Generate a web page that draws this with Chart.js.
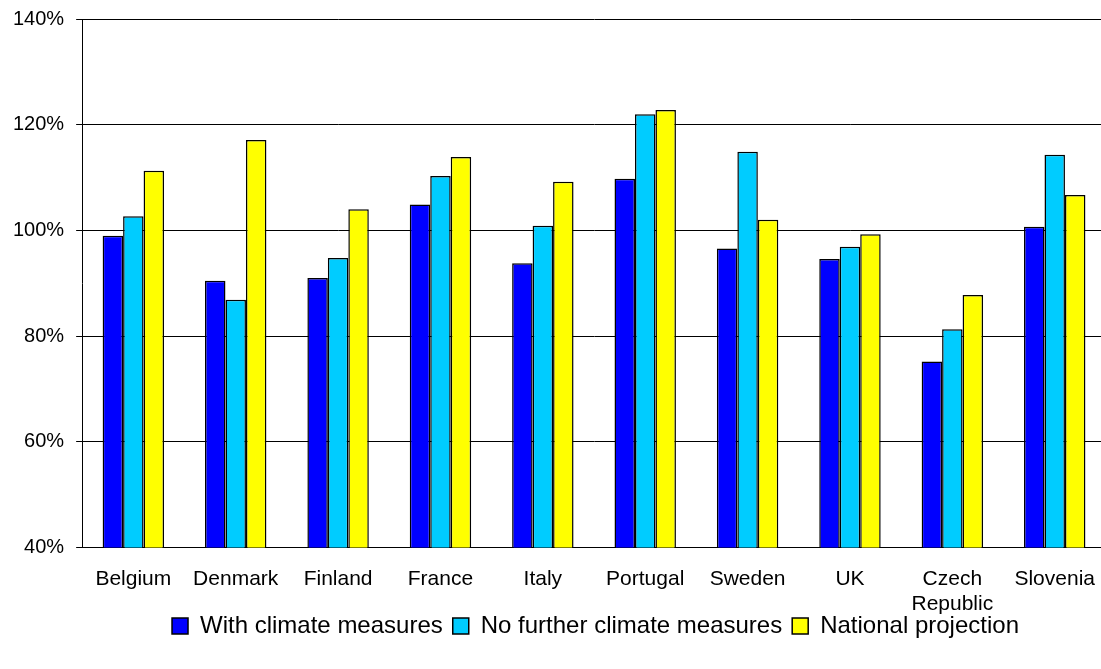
<!DOCTYPE html>
<html>
<head>
<meta charset="utf-8">
<script src="https://cdn.jsdelivr.net/npm/chart.js@4.4.0/dist/chart.umd.min.js"></script>
<style>
    body { margin: 0; background: #fff; overflow: hidden; }
    #wrap { width: 1106px; height: 669px; }
</style>
</head>
<body>
<div id="wrap"><canvas id="myChart" width="1106" height="669"></canvas></div>
<script>
const paises = ['Belgium', 'Denmark', 'Finland', 'France', 'Italy', 'Portugal', 'Sweden', 'UK', ['Czech', 'Republic'], 'Slovenia'];
const conMedidas = [99.0, 90.5, 91.0, 104.9, 93.8, 109.8, 96.6, 94.6, 75.2, 100.7];
const sinMedidas = [102.7, 86.9, 94.8, 110.3, 100.9, 122.0, 114.9, 96.9, 81.3, 114.3];
const proyeccionNacional = [111.3, 117.1, 104.0, 113.9, 109.2, 122.8, 102.0, 99.3, 87.8, 106.7];
const ticksY = [40, 60, 80, 100, 120, 140];

const fuente = 'Liberation Sans, Arial, Helvetica, sans-serif';

// mueve la leyenda: un poco a la derecha y mas cerca del eje, como en el original
const moverLeyenda = {
    id: 'moverLeyenda',
    afterLayout(chart) {
        const dx = 42;
        const dy = 24;
        chart.legend.left += dx;
        chart.legend.right += dx;
        chart.legend.top -= dy;
        chart.legend.bottom -= dy;
    }
};

const datasets = [
    {
        label: 'With climate measures',
        data: conMedidas,
        backgroundColor: '#0000ff',
        borderColor: '#000',
        borderWidth: 1.5
    },
    {
        label: 'No further climate measures',
        data: sinMedidas,
        backgroundColor: '#00ccff',
        borderColor: '#000',
        borderWidth: 1.5
    },
    {
        label: 'National projection',
        data: proyeccionNacional,
        backgroundColor: '#ffff00',
        borderColor: '#000',
        borderWidth: 1.5
    }
];

const ctx = document.getElementById('myChart').getContext('2d');
const myChart = new Chart(ctx, {
    type: 'bar',
    data: {
        labels: paises,
        datasets: datasets
    },
    plugins: [moverLeyenda],
    options: {
        responsive: false,
        animation: false,
        devicePixelRatio: 1,
        layout: {
            padding: { left: 1, top: 2, right: 0, bottom: -3 }
        },
        datasets: {
            bar: {
                categoryPercentage: 0.6,
                barPercentage: 1.0
            }
        },
        plugins: {
            tooltip: { enabled: false },
            legend: {
                position: 'bottom',
                labels: {
                    color: '#000',
                    font: { family: fuente, size: 24 },
                    boxWidth: 16,
                    boxHeight: 16,
                    padding: 10
                }
            }
        },
        scales: {
            x: {
                grid: { display: false },
                border: { display: true, color: '#000', width: 1 },
                ticks: {
                    color: '#000',
                    font: { family: fuente, size: 21 },
                    padding: 11,
                    maxRotation: 0,
                    autoSkip: false
                }
            },
            y: {
                min: 40,
                max: 140,
                afterBuildTicks: axis => {
                    axis.ticks = ticksY.map(v => ({ value: v }));
                },
                afterFit: axis => {
                    axis.paddingTop = 19;
                },
                grid: {
                    color: '#000',
                    lineWidth: 1,
                    drawTicks: true,
                    tickLength: 6
                },
                border: { display: true, color: '#000', width: 1 },
                ticks: {
                    color: '#000',
                    font: { family: fuente, size: 20 },
                    padding: 12,
                    callback: value => value + '%'
                }
            }
        }
    }
});
</script>
</body>
</html>
